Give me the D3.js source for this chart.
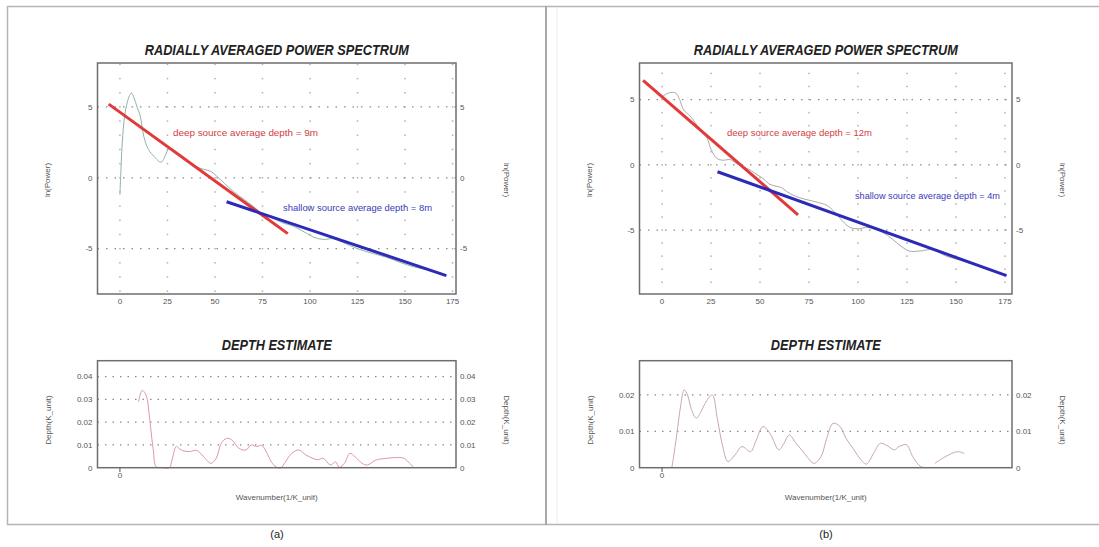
<!DOCTYPE html>
<html>
<head>
<meta charset="utf-8">
<script src="https://cdn.jsdelivr.net/npm/d3@7"></script>
<style>
  body { margin: 0; background: #fff; }
  svg { display: block; font-family: "Liberation Sans", Arial, sans-serif; }
</style>
</head>
<body>
<div id="chart"></div>
<script>
/* Radially averaged power spectrum + depth estimate, two panels */

const xTicks = [0, 25, 50, 75, 100, 125, 150, 175];
const specTicks = [5, 0, -5];
const depthTicksA = [0, 0.01, 0.02, 0.03, 0.04];
const depthTicksB = [0, 0.01, 0.02];

// spectrum curves (wavenumber, ln power)
const spectrumA = [[0,-1.2],[0.5,0.5],[1.5,3.0],[3,4.8],[5,5.8],[6,6.0],[7.5,5.6],[9,5.0],[10.6,4.4],[12.6,2.9],[15,2.0],[18,1.5],[21.7,1.1],[24,1.6],[26,2.1],[30,1.8],[35,1.3],[40,0.8],[44,0.6],[47.8,0.45],[51,0.1],[55,-0.4],[60,-1.0],[65,-1.5],[70,-2.0],[74,-2.45],[78,-2.7],[82,-2.95],[86,-3.2],[90,-3.35],[94,-3.6],[98,-3.9],[102,-4.2],[107,-4.35],[112,-4.3],[118,-4.6],[125,-5.0],[132,-5.3],[140,-5.6],[148,-6.0],[155,-6.3],[162,-6.5],[168,-6.7],[172,-6.9]];
const spectrumB = [[0,5.2],[2.4,5.45],[5,5.55],[7,5.5],[9,5.0],[11,4.2],[14,3.8],[18,3.0],[22.8,2.1],[25,1.2],[27.9,0.5],[31,0.35],[34.7,0.4],[38,0.1],[42,-0.2],[45,-0.4],[49,-0.8],[52,-1.1],[55,-1.5],[58.5,-1.65],[61,-1.75],[63.6,-2.05],[68,-2.4],[72,-2.6],[76,-2.75],[80,-2.9],[84,-3.1],[88,-3.6],[92,-4.3],[96,-4.8],[100,-4.9],[105,-4.8],[110,-5.0],[115,-5.4],[120,-6.0],[126,-6.6],[132,-6.6],[138,-6.5],[145,-7.0],[152,-7.3],[160,-7.7],[168,-8.1],[175,-8.4]];

// fitted segments
const deepLineA = [[-5.9, 5.2], [88.3, -3.94]];
const shallowLineA = [[56.1, -1.69], [171.7, -6.9]];
const deepLineB = [[-9.66, 6.47], [69.4, -3.83]];
const shallowLineB = [[28.3, -0.53], [175.8, -8.49]];

const deepLabels = ["deep source average depth = 9m", "deep source average depth = 12m"];
const shallowLabels = ["shallow source average depth = 8m", "shallow source average depth = 4m"];

// depth estimate curves (wavenumber, depth)
const depthA = [[9.8,0.029],[11.7,0.034],[13,0.033],[14.4,0.030],[15.3,0.024],[16.3,0.0166],[17.5,0.008],[19.1,0.0004],[22,0],[26,0],[27.4,0.0034],[29.6,0.0093],[31.1,0.0085],[33,0.0075],[36.7,0.0071],[40.4,0.0076],[44.1,0.0048],[47.8,0.0019],[50.6,0.0041],[53.3,0.0107],[56.1,0.0129],[58.9,0.0122],[62.6,0.0085],[66.3,0.0078],[69.1,0.0100],[71.9,0.0093],[74.6,0.0098],[77.4,0.0063],[80.2,0.0019],[83,0],[84.8,0],[87,0.0025],[90.4,0.0063],[94.1,0.0078],[97.8,0.0056],[101.5,0.0041],[104,0.0035],[107,0.0041],[110.7,0.0012],[113.5,0.0026],[115.4,0.0002],[118.1,0.0019],[120.9,0.0063],[123.7,0.0048],[127.4,0.0019],[130.2,0.0012],[134.8,0.0034],[140.4,0.0041],[145.9,0.0045],[149.6,0.0041],[152.4,0.0019],[154.3,0.0004]];
const depthB = [[5,0],[5.9,0.003],[7.5,0.009],[9.5,0.017],[11.3,0.0214],[13,0.020],[15,0.016],[17.5,0.0136],[20,0.0155],[22,0.0177],[25.6,0.0200],[28.3,0.0132],[31,0.0058],[33.6,0.0017],[37.2,0.0035],[40.8,0.0058],[45.2,0.0044],[48,0.0075],[51.5,0.0113],[55.1,0.0094],[59.6,0.0049],[62,0.0065],[65,0.0090],[68,0.0070],[71.2,0.0049],[74,0.003],[77.5,0.0012],[81.1,0.003],[84,0.008],[87.3,0.0122],[90.8,0.0113],[94,0.008],[98,0.0049],[101,0.0025],[104.3,0.001],[108,0.004],[111.4,0.0067],[115,0.006],[118.6,0.0049],[121,0.0058],[124.8,0.0063],[128,0.003],[132,0.0003],[135,0],null,[139.2,0.0012],[144.5,0.003],[150.7,0.0044],[154.3,0.0039]];

const W = 1099, H = 547;
const svg = d3.select("#chart").append("svg").attr("width", W).attr("height", H);

// panel frames
svg.append("line").attr("x1", 7).attr("x2", W).attr("y1", 6.5).attr("y2", 6.5).attr("stroke", "#b5b5b5").attr("stroke-width", 1.5);
svg.append("line").attr("x1", 7).attr("x2", W).attr("y1", 524.5).attr("y2", 524.5).attr("stroke", "#b5b5b5").attr("stroke-width", 1.5);
svg.append("line").attr("x1", 7.5).attr("x2", 7.5).attr("y1", 6).attr("y2", 525).attr("stroke", "#b5b5b5").attr("stroke-width", 1.5);
svg.append("line").attr("x1", 546).attr("x2", 546).attr("y1", 6).attr("y2", 525).attr("stroke", "#a8a8a8").attr("stroke-width", 2);
svg.append("line").attr("x1", 557).attr("x2", 557).attr("y1", 8).attr("y2", 523).attr("stroke", "#ececec").attr("stroke-width", 1);

const panels = [
  { xr: [97.5, 456], xd: [-11.8, 176.8], yd: [-8.2, 8.1], dd: [0, 0.047], dTicks: depthTicksA,
    spec: spectrumA, specColor: "#8fb3a6", deep: deepLineA, shallow: shallowLineA,
    deepPos: [173, 136, 145], shallowPos: [283, 211, 149], depth: depthA, depthColor: "#dc9aa4",
    caption: "(a)", capX: 277 },
  { xr: [639.5, 1012], xd: [-11.5, 178.6], yd: [-9.9, 7.8], dd: [0, 0.0294], dTicks: depthTicksB,
    spec: spectrumB, specColor: "#a9a9a9", deep: deepLineB, shallow: shallowLineB,
    deepPos: [727, 136, 145], shallowPos: [855, 199, 145], depth: depthB, depthColor: "#c9a7ad",
    caption: "(b)", capX: 826 }
];

function frame(g, x0, x1, y0, y1) {
  g.append("rect").attr("x", x0).attr("y", y0).attr("width", x1 - x0).attr("height", y1 - y0)
    .attr("fill", "none").attr("stroke", "#6e6e6e").attr("stroke-width", 1.5);
}

function tickText(g, x, y, anchor, txt) {
  g.append("text").attr("x", x).attr("y", y).attr("dy", "0.35em").attr("text-anchor", anchor)
    .attr("font-size", 8).attr("fill", "#555").text(txt);
}

panels.forEach((p, i) => {
  const g = svg.append("g");
  const x = d3.scaleLinear().domain(p.xd).range(p.xr);
  const y = d3.scaleLinear().domain(p.yd).range([294, 63]);
  const cx = (p.xr[0] + p.xr[1]) / 2;

  // ---- top: power spectrum ----
  g.append("text").attr("x", cx).attr("y", 55).attr("text-anchor", "middle")
    .attr("font-size", 14).attr("font-weight", "bold").attr("font-style", "italic")
    .attr("fill", "#222").attr("textLength", 264).attr("lengthAdjust", "spacingAndGlyphs")
    .text("RADIALLY AVERAGED POWER SPECTRUM");

  // grid dots at each x tick, every unit of y
  const dots = [];
  xTicks.forEach(t => d3.range(Math.ceil(p.yd[0]), Math.floor(p.yd[1]) + 1).forEach(v => dots.push([t, v])));
  g.selectAll(".gdot").data(dots).join("rect").attr("class", "gdot")
    .attr("x", d => x(d[0]) - 0.75).attr("y", d => y(d[1]) - 0.75)
    .attr("width", 1.5).attr("height", 1.5).attr("fill", "#b0b0b0");

  g.selectAll(".hgrid").data(specTicks).join("line").attr("class", "hgrid")
    .attr("x1", p.xr[0]).attr("x2", p.xr[1]).attr("y1", d => y(d)).attr("y2", d => y(d))
    .attr("stroke", "#8a8a8a").attr("stroke-width", 1.2).attr("stroke-dasharray", "1.5,7");

  const line = d3.line().x(d => x(d[0])).y(d => y(d[1])).curve(d3.curveCatmullRom);
  g.append("path").attr("d", line(p.spec)).attr("fill", "none")
    .attr("stroke", p.specColor).attr("stroke-width", 1);

  const seg = d3.line().x(d => x(d[0])).y(d => y(d[1]));
  g.append("path").attr("d", seg(p.deep)).attr("stroke", "#e2393a").attr("stroke-width", 3).attr("fill", "none");
  g.append("path").attr("d", seg(p.shallow)).attr("stroke", "#2d2ab8").attr("stroke-width", 3).attr("fill", "none");

  g.append("text").attr("x", p.deepPos[0]).attr("y", p.deepPos[1]).attr("font-size", 9.5)
    .attr("fill", "#d2403f").attr("textLength", p.deepPos[2]).attr("lengthAdjust", "spacingAndGlyphs")
    .text(deepLabels[i]);
  g.append("text").attr("x", p.shallowPos[0]).attr("y", p.shallowPos[1]).attr("font-size", 9.5)
    .attr("fill", "#3a3ab8").attr("textLength", p.shallowPos[2]).attr("lengthAdjust", "spacingAndGlyphs")
    .text(shallowLabels[i]);

  frame(g, p.xr[0], p.xr[1], 63, 294);

  xTicks.forEach(t => tickText(g, x(t), 301, "middle", t));
  specTicks.forEach(t => {
    tickText(g, p.xr[0] - 5, y(t), "end", t);
    tickText(g, p.xr[1] + 4, y(t), "start", t);
  });

  g.append("text").attr("transform", `translate(${p.xr[0] - 48},180) rotate(-90)`)
    .attr("text-anchor", "middle").attr("font-size", 8).attr("fill", "#555").text("ln(Power)");
  g.append("text").attr("transform", `translate(${p.xr[1] + 48},180) rotate(90)`)
    .attr("text-anchor", "middle").attr("font-size", 8).attr("fill", "#555").text("ln(Power)");

  // ---- bottom: depth estimate ----
  const yd = d3.scaleLinear().domain(p.dd).range([467.7, 360.7]);

  g.append("text").attr("x", cx).attr("y", 350).attr("text-anchor", "middle")
    .attr("font-size", 14).attr("font-weight", "bold").attr("font-style", "italic")
    .attr("fill", "#222").attr("textLength", 110).attr("lengthAdjust", "spacingAndGlyphs")
    .text("DEPTH ESTIMATE");

  g.selectAll(".dgrid").data(p.dTicks.filter(t => t > 0)).join("line").attr("class", "dgrid")
    .attr("x1", p.xr[0]).attr("x2", p.xr[1]).attr("y1", d => yd(d)).attr("y2", d => yd(d))
    .attr("stroke", "#8a8a8a").attr("stroke-width", 1.2).attr("stroke-dasharray", "1.5,6");

  const dline = d3.line().defined(d => d !== null).x(d => x(d[0])).y(d => yd(d[1])).curve(d3.curveCatmullRom);
  g.append("path").attr("d", dline(p.depth)).attr("fill", "none")
    .attr("stroke", p.depthColor).attr("stroke-width", 1);

  frame(g, p.xr[0], p.xr[1], 360.7, 467.7);

  p.dTicks.forEach(t => {
    const lab = t === 0 ? "0" : t.toFixed(2);
    tickText(g, p.xr[0] - 5, yd(t), "end", lab);
    tickText(g, p.xr[1] + 4, yd(t), "start", lab);
  });
  g.append("line").attr("x1", x(0)).attr("x2", x(0)).attr("y1", 467.7).attr("y2", 472)
    .attr("stroke", "#555").attr("stroke-width", 1);
  tickText(g, x(0), 475, "middle", "0");

  g.append("text").attr("x", cx).attr("y", 500).attr("text-anchor", "middle")
    .attr("font-size", 8).attr("fill", "#555").text("Wavenumber(1/K_unit)");
  g.append("text").attr("transform", `translate(${p.xr[0] - 47},420) rotate(-90)`)
    .attr("text-anchor", "middle").attr("font-size", 8).attr("fill", "#555").text("Depth(K_unit)");
  g.append("text").attr("transform", `translate(${p.xr[1] + 48},420) rotate(90)`)
    .attr("text-anchor", "middle").attr("font-size", 8).attr("fill", "#555").text("Depth(K_unit)");

  svg.append("text").attr("x", p.capX).attr("y", 538).attr("text-anchor", "middle")
    .attr("font-size", 11).attr("fill", "#222").text(p.caption);
});
</script>
</body>
</html>
